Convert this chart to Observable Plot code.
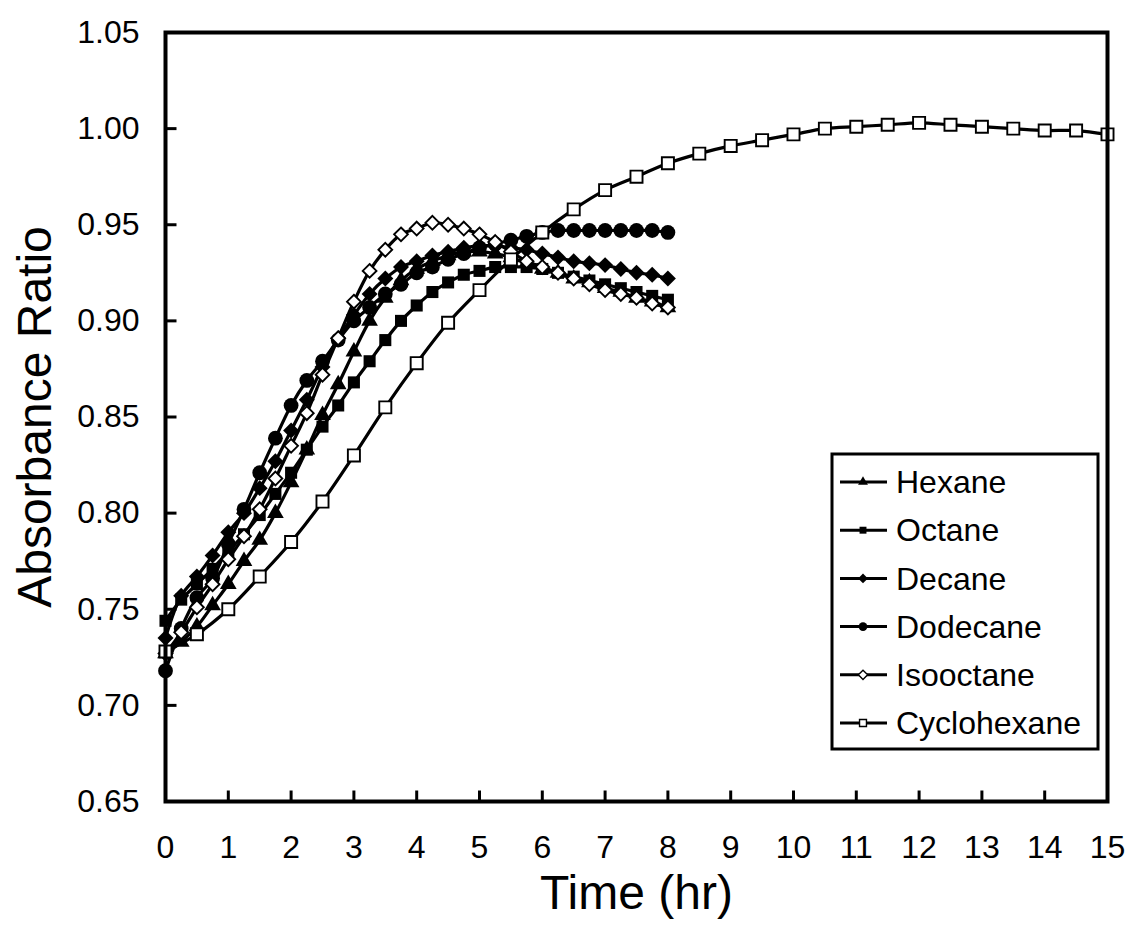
<!DOCTYPE html>
<html><head><meta charset="utf-8">
<script src="https://cdn.jsdelivr.net/npm/d3@7"></script>
<script src="https://cdn.jsdelivr.net/npm/@observablehq/plot@0.6"></script>
<style>
body{margin:0;background:#fff;}
#wrap{position:relative;width:1129px;height:939px;font-family:"Liberation Sans",Arial,sans-serif;}
#legend{position:absolute;}
</style></head><body><div id="wrap"></div>
<script>
// time points (hr)
const timeQuarter = [0,0.25,0.5,0.75,1,1.25,1.5,1.75,2,2.25,2.5,2.75,3,3.25,3.5,3.75,4,4.25,4.5,4.75,5,5.25,5.5,5.75,6,6.25,6.5,6.75,7,7.25,7.5,7.75,8];
const timeHalf = [0,0.5,1,1.5,2,2.5,3,3.5,4,4.5,5,5.5,6,6.5,7,7.5,8,8.5,9,9.5,10,10.5,11,11.5,12,12.5,13,13.5,14,14.5,15];

// absorbance ratio series
const hexane = [0.727,0.733,0.741,0.752,0.763,0.775,0.786,0.800,0.816,0.833,0.851,0.867,0.884,0.900,0.912,0.921,0.927,0.931,0.934,0.936,0.936,0.935,0.933,0.930,0.927,0.925,0.922,0.920,0.917,0.915,0.912,0.910,0.907];
const octane = [0.744,0.755,0.763,0.771,0.780,0.789,0.799,0.810,0.821,0.833,0.845,0.856,0.868,0.879,0.890,0.900,0.908,0.915,0.920,0.924,0.926,0.928,0.928,0.928,0.927,0.925,0.923,0.921,0.919,0.917,0.915,0.913,0.911];
const decane = [0.735,0.757,0.767,0.778,0.790,0.800,0.813,0.827,0.843,0.859,0.876,0.891,0.903,0.914,0.922,0.928,0.931,0.934,0.936,0.938,0.939,0.939,0.938,0.937,0.935,0.933,0.931,0.930,0.929,0.927,0.925,0.924,0.922];
const dodecane = [0.718,0.740,0.756,0.766,0.784,0.802,0.821,0.839,0.856,0.869,0.879,0.890,0.900,0.907,0.914,0.919,0.925,0.928,0.932,0.935,0.938,0.940,0.942,0.944,0.946,0.947,0.947,0.947,0.947,0.947,0.947,0.947,0.946];
const isooctane = [0.727,0.738,0.751,0.763,0.776,0.788,0.802,0.818,0.835,0.852,0.872,0.891,0.910,0.926,0.937,0.945,0.948,0.951,0.950,0.948,0.945,0.941,0.936,0.931,0.928,0.925,0.922,0.919,0.916,0.914,0.912,0.909,0.907];
const cyclohexane = [0.728,0.737,0.750,0.767,0.785,0.806,0.830,0.855,0.878,0.899,0.916,0.932,0.946,0.958,0.968,0.975,0.982,0.987,0.991,0.994,0.997,1.000,1.001,1.002,1.003,1.002,1.001,1.000,0.999,0.999,0.997];

// axis ticks
const xTicks = [0,1,2,3,4,5,6,7,8,9,10,11,12,13,14,15];
const yTicks = [0.65,0.70,0.75,0.80,0.85,0.90,0.95,1.00,1.05];

const seriesNames = ["Hexane","Octane","Decane","Dodecane","Isooctane","Cyclohexane"];
const seriesValues = [hexane, octane, decane, dodecane, isooctane, cyclohexane];
const seriesTimes = [timeQuarter, timeQuarter, timeQuarter, timeQuarter, timeQuarter, timeHalf];

const styles = {
  Hexane:      {symbol:"triangle", fill:"black", stroke:"none", r:6.2, ls:d3.symbolTriangle, lsize:42},
  Octane:      {symbol:"square",   fill:"black", stroke:"none", r:6.8, ls:d3.symbolSquare, lsize:48},
  Decane:      {symbol:"diamond2", fill:"black", stroke:"none", r:7.2, ls:d3.symbolDiamond2, lsize:60},
  Dodecane:    {symbol:"circle",   fill:"black", stroke:"none", r:7.4, ls:d3.symbolCircle, lsize:60},
  Isooctane:   {symbol:"diamond2", fill:"white", stroke:"black", r:6.2, ls:d3.symbolDiamond2, lsize:55},
  Cyclohexane: {symbol:"square",   fill:"white", stroke:"black", r:6.8, ls:d3.symbolSquare, lsize:48}
};

const rows = seriesNames.flatMap((name, k) => seriesValues[k].map((v, i) => ({name, t: seriesTimes[k][i], v})));

const marks = [];
seriesNames.forEach(name => {
  const d = rows.filter(r => r.name === name);
  const s = styles[name];
  marks.push(Plot.line(d, {x:"t", y:"v", curve:"catmull-rom", stroke:"black", strokeWidth:3.2}));
  marks.push(Plot.dot(d, {x:"t", y:"v", symbol:s.symbol, fill:s.fill, stroke:s.stroke, strokeWidth:1.9, r:s.r}));
});

// inward tick glyphs for the axes
const tickLen = 11;
const rightTick = {draw(ctx){ ctx.moveTo(0,0); ctx.lineTo(tickLen,0); }};
const upTick = {draw(ctx){ ctx.moveTo(0,0); ctx.lineTo(0,-tickLen); }};

const chart = Plot.plot({
  width:1129, height:939,
  marginLeft:165, marginRight:22, marginTop:32, marginBottom:138,
  style:{fontFamily:"'Liberation Sans', Arial, sans-serif", background:"white"},
  x:{domain:[0,15]},
  y:{domain:[0.65,1.05]},
  marks:[
    Plot.axisY(yTicks, {tickSize:0, tickPadding:26, tickFormat:d3.format(".2f"), fontSize:32, label:null, color:"black"}),
    Plot.axisX(xTicks, {tickSize:0, tickPadding:34, tickFormat:d3.format("d"), fontSize:32, label:null, color:"black"}),
    Plot.dot(yTicks, {y:d=>d, frameAnchor:"left", symbol:rightTick, fill:"none", stroke:"black", strokeWidth:3}),
    Plot.dot(xTicks, {x:d=>d, frameAnchor:"bottom", symbol:upTick, fill:"none", stroke:"black", strokeWidth:3}),
    ...marks,
    Plot.frame({stroke:"black", strokeWidth:4}),
    Plot.text(["Absorbance Ratio"], {text:d=>d, frameAnchor:"left", textAnchor:"middle", lineAnchor:"middle", rotate:-90, dx:-130, fontSize:48, fill:"black"}),
    Plot.text(["Time (hr)"], {text:d=>d, frameAnchor:"bottom", textAnchor:"middle", lineAnchor:"middle", dy:92, fontSize:48, fill:"black"})
  ]
});
document.getElementById("wrap").appendChild(chart);

// legend
const lw = 266, lh = 295;
const leg = d3.select("#wrap").append("svg").attr("id","legend").attr("width",lw+4).attr("height",lh+4)
  .style("left","830px").style("top","452px");
leg.append("rect").attr("x",2).attr("y",2).attr("width",lw).attr("height",lh)
  .attr("fill","white").attr("stroke","black").attr("stroke-width",3);
seriesNames.forEach((name, i) => {
  const s = styles[name];
  const cy = 30 + i*48.2;
  const g = leg.append("g").attr("transform",`translate(0,${cy})`);
  g.append("line").attr("x1",10).attr("x2",57).attr("y1",0).attr("y2",0).attr("stroke","black").attr("stroke-width",3);
  g.append("path").attr("d", d3.symbol(s.ls, s.lsize)()).attr("transform","translate(33,0)")
    .attr("fill", s.fill).attr("stroke", s.stroke === "none" ? "none" : "black").attr("stroke-width",1.4);
  g.append("text").attr("x",66).attr("y",0).attr("dy","0.35em").attr("font-size",32)
    .attr("font-family","'Liberation Sans', Arial, sans-serif").text(name);
});
</script></body></html>
